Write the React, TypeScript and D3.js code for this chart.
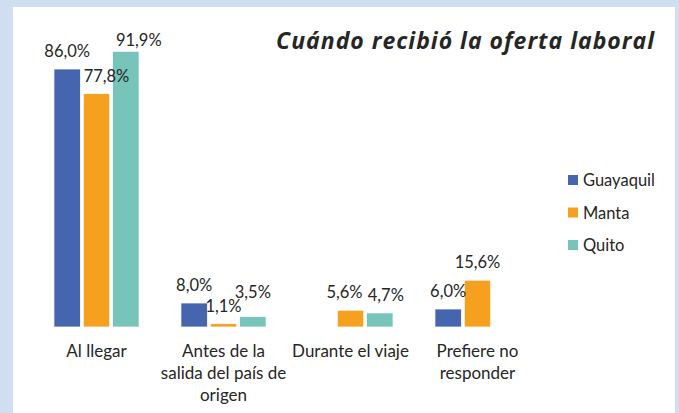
import React, { useRef, useEffect } from "react";
import * as d3 from "d3";

const categories = ["Al llegar", "Antes de la\nsalida del país de\norigen", "Durante el viaje", "Prefiere no\nresponder"];
const seriesNames = ["Guayaquil", "Manta", "Quito"];
const guayaquil = [86.0, 8.0, null, 6.0];
const manta = [77.8, 1.1, 5.6, 15.6];
const quito = [91.9, 3.5, 4.7, null];
const colors = ["#4565ae", "#f6a020", "#76c4ba"];

// label nudges (excel moves some labels so they don't collide)
const nudges = {
  "0-1": [10, 0],
  "0-2": [13, 7],
  "1-2": [0, -7],
  "2-1": [-6, 0],
  "2-2": [6, 0],
};

const fmt = (v) => d3.format(".1f")(v).replace(".", ",") + "%";

const App = () => {
  const svgRef = useRef();

  useEffect(() => {
    const w = 679;
    const h = 413;
    const svg = d3.select(svgRef.current);
    svg.selectAll("*").remove();
    const font = "Lato, 'Noto Sans', sans-serif";

    svg.append("rect").attr("width", w).attr("height", h).attr("fill", "#cfdef0");
    svg.append("rect").attr("x", 13).attr("y", 7).attr("width", 662).attr("height", h).attr("fill", "#ffffff");

    const values = [guayaquil, manta, quito];

    const x0 = d3.scaleBand().domain(d3.range(categories.length))
      .range([33, 541]).paddingInner(0.33).paddingOuter(0.165);
    const x1 = d3.scaleBand().domain(d3.range(seriesNames.length))
      .range([0, x0.bandwidth()]).paddingInner(0.1);
    const y = d3.scaleLinear().domain([0, 100]).range([327, 27]);

    const flat = [];
    categories.forEach((c, i) => seriesNames.forEach((s, j) => {
      if (values[j][i] != null) flat.push({ i, j, v: values[j][i] });
    }));

    svg.append("g").selectAll("rect")
      .data(flat)
      .join("rect")
      .attr("x", (d) => x0(d.i) + x1(d.j))
      .attr("y", (d) => y(d.v))
      .attr("width", x1.bandwidth())
      .attr("height", (d) => y(0) - y(d.v))
      .attr("fill", (d) => colors[d.j])
      .attr("stroke", "#ffffff")
      .attr("stroke-width", 0.75);

    svg.append("g").selectAll("text")
      .data(flat)
      .join("text")
      .attr("x", (d) => x0(d.i) + x1(d.j) + x1.bandwidth() / 2 + (nudges[`${d.i}-${d.j}`] || [0, 0])[0])
      .attr("y", (d) => y(d.v) - 12 + (nudges[`${d.i}-${d.j}`] || [0, 0])[1])
      .attr("text-anchor", "middle")
      .attr("font-family", font)
      .attr("font-size", 16.5)
      .attr("fill", "#262626")
      .text((d) => fmt(d.v));

    const xAxis = svg.append("g")
      .attr("transform", `translate(0,327)`)
      .call(d3.axisBottom(x0).tickSize(0).tickFormat(() => ""));
    xAxis.select(".domain").remove();
    xAxis.selectAll(".tick text").remove();
    xAxis.selectAll(".tick").each(function (i) {
      const t = d3.select(this).append("text")
        .attr("text-anchor", "middle")
        .attr("font-family", font)
        .attr("font-size", 17)
        .attr("fill", "#262626");
      categories[i].split("\n").forEach((line, k) => {
        t.append("tspan").attr("x", 0).attr("y", 30 + k * 22).text(line);
      });
    });

    svg.append("text")
      .attr("x", 655)
      .attr("y", 49)
      .attr("text-anchor", "end")
      .attr("font-family", "'Open Sans', sans-serif")
      .attr("font-size", 23)
      .attr("letter-spacing", 1)
      .attr("font-weight", "bold")
      .attr("font-style", "italic")
      .attr("fill", "#262626")
      .text("Cuándo recibió la oferta laboral");

    const legend = svg.append("g").selectAll("g")
      .data(seriesNames)
      .join("g")
      .attr("transform", (d, j) => `translate(568,${180 + j * 32.5})`);
    legend.append("rect").attr("y", -5).attr("width", 10).attr("height", 10)
      .attr("fill", (d, j) => colors[j]);
    legend.append("text").attr("x", 15).attr("y", 6)
      .attr("font-family", font).attr("font-size", 16.5).attr("fill", "#262626")
      .text((d) => d);
  }, []);

  return (
    <div style={{ position: "absolute", left: 0, top: 0 }}>
      <svg ref={svgRef} width={679} height={413} style={{ display: "block" }}></svg>
    </div>
  );
};

export default App;
